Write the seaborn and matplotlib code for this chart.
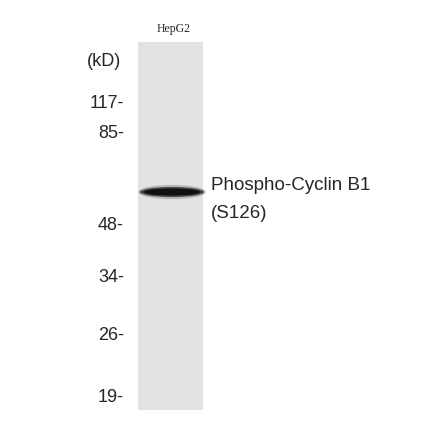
import matplotlib
matplotlib.use("Agg")
import matplotlib.pyplot as plt
import seaborn as sns
import numpy as np
from matplotlib.patches import Rectangle, Ellipse

sns.set_style("white")
plt.rcParams['font.family'] = ['Liberation Sans', 'DejaVu Sans']

markers = ["117-", "85-", "48-", "34-", "26-", "19-"]
marker_y = [103, 133, 225, 278, 336, 398]
lane_label = "HepG2"
target = ["Phospho-Cyclin B1", "(S126)"]

fig = plt.figure(figsize=(4.4, 4.41), dpi=100)
ax = fig.add_axes([0, 0, 1, 1])
ax.set_xlim(0, 440); ax.set_ylim(441, 0); ax.axis("off")

ax.add_patch(Rectangle((138, 42), 65, 368, color="#e2e2e2", lw=0))
for w, h, c, a in [(68, 14, "#888888", 0.5), (64, 10, "#333333", 0.85), (56, 7, "#111111", 1.0)]:
    ax.add_patch(Ellipse((172, 192), w, h, color=c, alpha=a, lw=0))

ax.text(174, 29, lane_label, family="Liberation Serif", fontsize=8.5, ha="center", va="center")
ax.text(104, 62, "(kD)", fontsize=13, ha="center", va="center")
for t, y in zip(markers, marker_y):
    ax.text(124, y, t, fontsize=13, ha="right", va="center")
ax.text(211, 185, target[0], fontsize=13.5, ha="left", va="center")
ax.text(211, 213, target[1], fontsize=13.5, ha="left", va="center")
fig.savefig("out.png", dpi=100)
